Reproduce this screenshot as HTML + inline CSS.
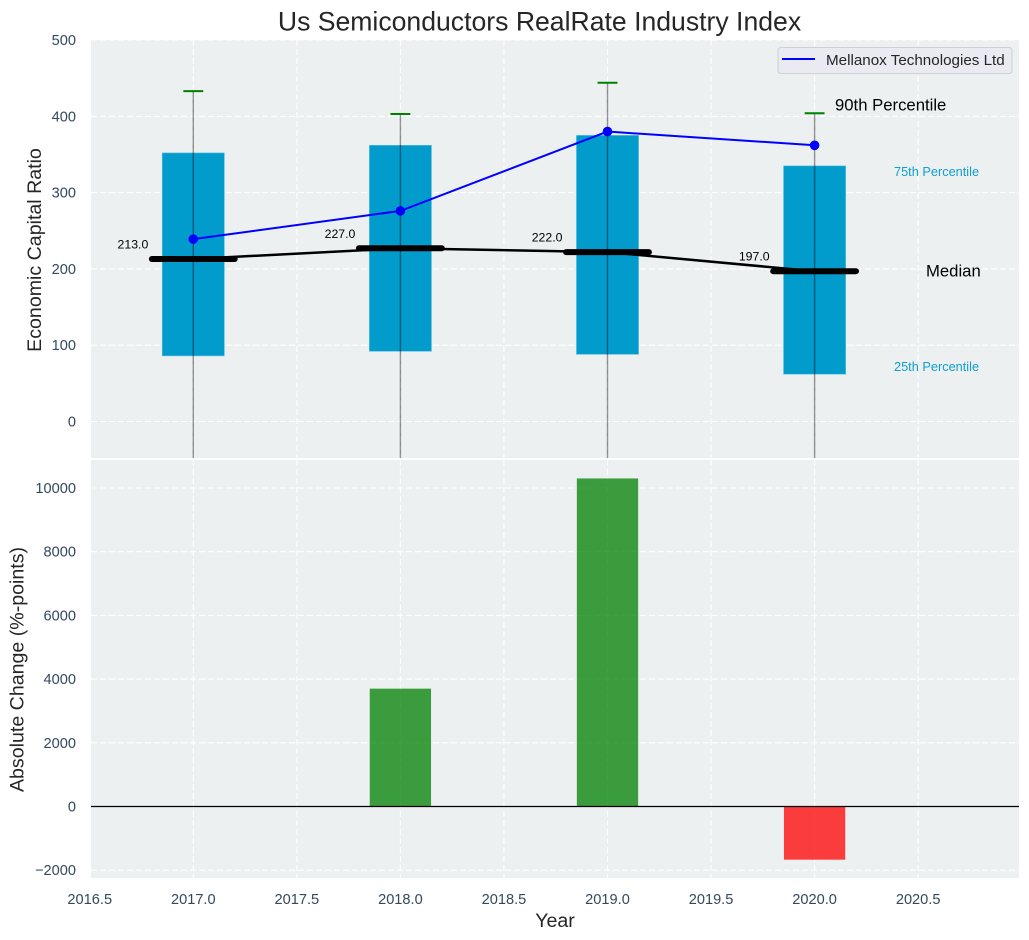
<!DOCTYPE html>
<html>
<head>
<meta charset="utf-8">
<title>Us Semiconductors RealRate Industry Index</title>
<style>
html,body{margin:0;padding:0;background:#fff;width:1029px;height:940px;overflow:hidden}
svg{display:block;font-family:"Liberation Sans",Arial,sans-serif}
.tick{font-size:14.6px;fill:#34495e}
.grid{stroke:#fff;stroke-width:1.1;stroke-dasharray:6 3;opacity:1}
</style>
</head>
<body>
<svg id="chart" xmlns="http://www.w3.org/2000/svg" width="1029" height="940" viewBox="0 0 1029 940">
  <defs>
    <clipPath id="clipTop"><rect x="91" y="40" width="928" height="418"/></clipPath>
    <clipPath id="clipBot"><rect x="91" y="460" width="928" height="418"/></clipPath>
  </defs>
  <text x="539.5" y="30.5" text-anchor="middle" font-size="26.6" fill="#262626">Us Semiconductors RealRate Industry Index</text>
  <rect x="91" y="40" width="928" height="418" fill="#ecf0f1"/>
  <rect x="91" y="460" width="928" height="418" fill="#ecf0f1"/>
  <g id="gridTop"></g>
  <g id="gridBot"></g>
  <g id="marksTop" clip-path="url(#clipTop)"></g>
  <g id="marksBot" clip-path="url(#clipBot)"></g>
  <g id="ticks"></g>
  <text transform="translate(41,250) rotate(-90)" text-anchor="middle" font-size="19.6" fill="#262626">Economic Capital Ratio</text>
  <text transform="translate(23.5,669.5) rotate(-90)" text-anchor="middle" font-size="19.6" fill="#262626">Absolute Change (%-points)</text>
  <text x="555" y="927" text-anchor="middle" font-size="19.6" fill="#262626">Year</text>
  <g>
    <rect x="778" y="47.5" width="234" height="26" rx="3" fill="#eaeaf2" stroke="#cfcfd4" stroke-width="1"/>
    <line x1="782" x2="815" y1="59" y2="59" stroke="#0000ff" stroke-width="2"/>
    <text x="826" y="65" font-size="15.2" fill="#262626">Mellanox Technologies Ltd</text>
  </g>
  <text x="835" y="110.5" font-size="16.7" fill="#000">90th Percentile</text>
  <text x="894" y="176" font-size="12.75" fill="#0f9fcf">75th Percentile</text>
  <text x="926" y="276.5" font-size="16.7" fill="#000">Median</text>
  <text x="894" y="371" font-size="12.75" fill="#0f9fcf">25th Percentile</text>
</svg>
<script>
const years = [2017, 2018, 2019, 2020];
const p25 = [86, 92, 88, 62];
const p75 = [352, 362, 375, 335];
const p90 = [433, 403, 444, 404];
const p10 = [-120, -120, -120, -120];
const median = [213, 227, 222, 197];
const company = [239, 276, 380, 362];
const absChange = [0, 3700, 10300, -1670];
const xTicks = [2016.5, 2017, 2017.5, 2018, 2018.5, 2019, 2019.5, 2020, 2020.5];
const topTicks = [0, 100, 200, 300, 400, 500];
const botTicks = [-2000, 0, 2000, 4000, 6000, 8000, 10000];

const X = v => 193.3 + (v - 2017) * 207.1;
const YT = v => 421.5 - v * 0.763;
const YB = v => 806.5 - v * 0.03185;
const NS = 'http://www.w3.org/2000/svg';
function mk(tag, parent, attrs, txt) {
  const el = document.createElementNS(NS, tag);
  for (const k in attrs) el.setAttribute(k, attrs[k]);
  if (txt !== undefined) el.textContent = txt;
  parent.appendChild(el);
  return el;
}
const gridTop = document.getElementById('gridTop');
const gridBot = document.getElementById('gridBot');
const marksTop = document.getElementById('marksTop');
const marksBot = document.getElementById('marksBot');
const ticks = document.getElementById('ticks');

xTicks.forEach(t => {
  const x = X(t);
  if (x >= 91) {
    const a = mk('line', gridTop, {x1: x, x2: x, y1: 40, y2: 458, class: 'grid'});
    
    
    const b = mk('line', gridBot, {x1: x, x2: x, y1: 460, y2: 878, class: 'grid'});
    
    
  }
  const l = mk('text', ticks, {x: x, y: 904, 'text-anchor': 'middle', class: 'tick'}, t.toFixed(1));
  
  
});
topTicks.forEach(t => {
  const g = mk('line', gridTop, {x1: 91, x2: 1019, y1: YT(t), y2: YT(t), class: 'grid'});
  
  
  const l = mk('text', ticks, {x: 76, y: YT(t) + 5, 'text-anchor': 'end', class: 'tick'}, String(t));
  
  
});
botTicks.forEach(t => {
  const g = mk('line', gridBot, {x1: 91, x2: 1019, y1: YB(t), y2: YB(t), class: 'grid'});
  
  
  const l = mk('text', ticks, {x: 76, y: YB(t) + 5, 'text-anchor': 'end', class: 'tick'}, String(t).replace('-', '\u2212'));
  
  
});

years.forEach((yr, i) => {
  const box = mk('rect', marksTop, {x: X(yr - 0.15), width: X(yr + 0.15) - X(yr - 0.15), y: YT(p75[i]), height: YT(p25[i]) - YT(p75[i]), fill: '#019bcc', stroke: '#5fc0e0', 'stroke-width': 0.6});
  
  
});
const medLine = mk('polyline', marksTop, {points: years.map((y, i) => X(y) + ',' + YT(median[i])).join(' '), fill: 'none', stroke: '#000', 'stroke-width': 2.5});


years.forEach((yr, i) => {
  const bar = mk('line', marksTop, {x1: X(yr - 0.2), x2: X(yr + 0.2), y1: YT(median[i]), y2: YT(median[i]), stroke: '#000', 'stroke-width': 6, 'stroke-linecap': 'round'});
  
  
  const whisk = mk('line', marksTop, {x1: X(yr), x2: X(yr), y1: YT(p90[i]), y2: YT(p10[i]), stroke: '#000', 'stroke-opacity': 0.42, 'stroke-width': 1.4});
  
  
  const cap = mk('line', marksTop, {x1: X(yr - 0.048), x2: X(yr + 0.048), y1: YT(p90[i]), y2: YT(p90[i]), stroke: '#008000', 'stroke-width': 2});
  
  
  const lab = mk('text', marksTop, {x: X(yr) - 45, y: YT(median[i]) - 10.5, 'text-anchor': 'end', 'font-size': 12.3, fill: '#000'}, median[i].toFixed(1));
  
  
});
const coLine = mk('polyline', marksTop, {points: years.map((y, i) => X(y) + ',' + YT(company[i])).join(' '), fill: 'none', stroke: '#0000ff', 'stroke-width': 2});


years.forEach((yr, i) => {
  const pt = mk('circle', marksTop, {cx: X(yr), cy: YT(company[i]), r: 4.8, fill: '#0000ff'});
  
  
});

years.forEach((yr, i) => {
  const v = absChange[i];
  const top = Math.min(YB(v), YB(0));
  const bar = mk('rect', marksBot, {x: X(yr - 0.148), width: X(yr + 0.148) - X(yr - 0.148), y: top, height: Math.abs(YB(v) - YB(0)), fill: v >= 0 ? '#008000' : '#ff0000', 'fill-opacity': 0.75});
  
  
});
const zero = mk('line', marksBot, {x1: 91, x2: 1019, y1: YB(0), y2: YB(0), stroke: '#000', 'stroke-width': 1.3});


</script>
</body>
</html>
